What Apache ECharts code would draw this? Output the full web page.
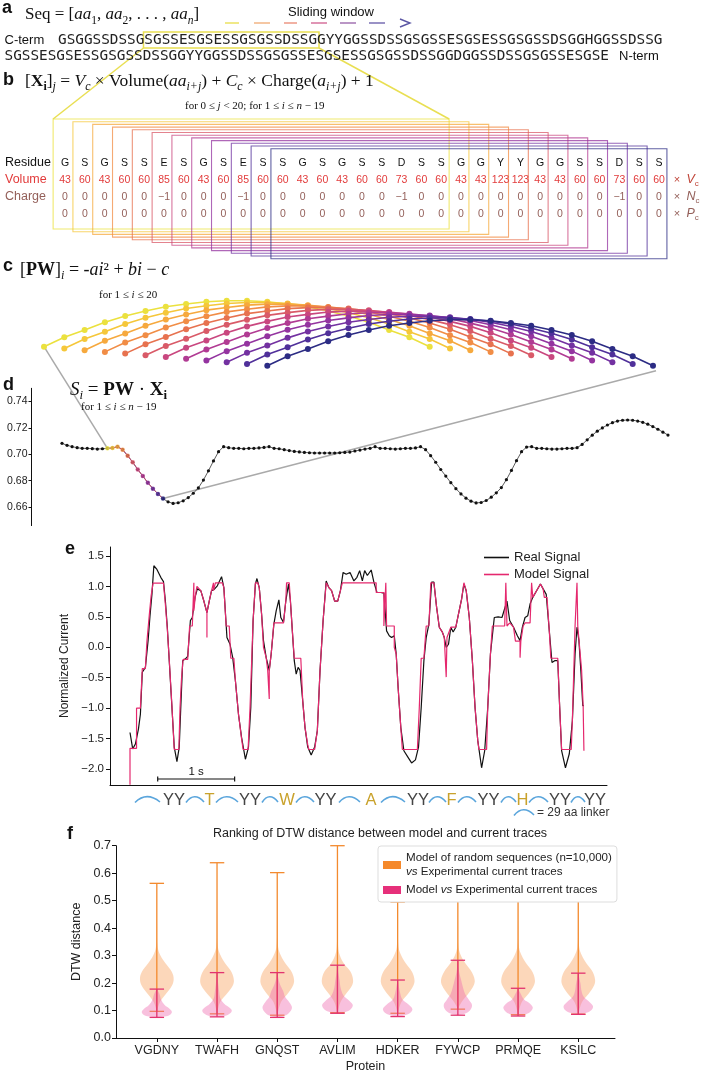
<!DOCTYPE html>
<html><head><meta charset="utf-8">
<script src="https://cdn.jsdelivr.net/npm/echarts@6/dist/echarts.min.js"></script>
<style>html,body{margin:0;padding:0;background:#fff}#c{width:702px;height:1074px}</style>
</head><body><div id="c"></div>
<script>
// ================= DATA =================
const seqLine1 = 'GSGGSSDSSGSGSSESGSESSGSGSSDSSGGYYGGSSDSSGSGSSESGSESSGSGSSDSGGHGGSSDSSG';
const seqLine2 = 'SGSSESGSESSGSGSSDSSGGYYGGSSDSSGSGSSESGSESSGSGSSDSSGGDGGSSDSSGSGSSESGSE';
const rowNames = ['Residue', 'Volume', 'Charge', ''];
const residues = ['G','S','G','S','S','E','S','G','S','E','S','S','G','S','G','S','S','D','S','S','G','G','Y','Y','G','G','S','S','D','S','S'];
const volumes = [43,60,43,60,60,85,60,43,60,85,60,60,43,60,43,60,60,73,60,60,43,43,123,123,43,43,60,60,73,60,60];
const charges = [0,0,0,0,0,-1,0,0,0,-1,0,0,0,0,0,0,0,-1,0,0,0,0,0,0,0,0,0,0,-1,0,0];
const posCharges = [0,0,0,0,0,0,0,0,0,0,0,0,0,0,0,0,0,0,0,0,0,0,0,0,0,0,0,0,0,0,0];
const unitNames = ['V', 'N', 'P'];
const nWindows = 12;
const pwWeights = [0.540,0.634,0.707,0.784,0.847,0.897,0.940,0.967,0.990,1.000,1.000,0.990,0.967,0.940,0.897,0.847,0.784,0.707,0.634,0.540];
const scoreValues = [
0.7083,0.7068,0.7058,0.7050,0.7045,0.7045,0.7043,0.7040,0.7042,0.7045,
0.7048,0.7058,0.7035,0.6990,0.6940,0.6885,0.6835,0.6785,0.6740,0.6700,
0.6665,0.6640,0.6628,0.6633,0.6648,0.6672,0.6705,0.6745,0.6805,0.6875,
0.6950,0.7020,0.7058,0.7050,0.7045,0.7045,0.7042,0.7045,0.7045,0.7048,
0.7052,0.7058,0.7045,0.7042,0.7035,0.7028,0.7022,0.7018,0.7014,0.7012,
0.7010,0.7010,0.7010,0.7010,0.7010,0.7012,0.7014,0.7017,0.7025,0.7032,
0.7040,0.7045,0.7058,0.7045,0.7045,0.7042,0.7040,0.7042,0.7045,0.7045,
0.7048,0.7058,0.7035,0.6990,0.6940,0.6885,0.6835,0.6785,0.6740,0.6700,
0.6668,0.6645,0.6632,0.6635,0.6650,0.6675,0.6708,0.6748,0.6808,0.6878,
0.6952,0.7020,0.7055,0.7058,0.7045,0.7045,0.7042,0.7040,0.7040,0.7042,
0.7045,0.7045,0.7050,0.7075,0.7110,0.7145,0.7175,0.7200,0.7222,0.7240,
0.7252,0.7258,0.7260,0.7258,0.7252,0.7242,0.7228,0.7210,0.7190,0.7168,
0.7146];
const firstWindowIndex = 9;
const dTicks = [0.66, 0.68, 0.70, 0.72, 0.74];
// time in 5 ms samples (200 per second), normalized current
const realSignal = [[78,-1.40],[85,-1.67],[92,-1.59],[100,-1.34],[105,-1.10],[110,-0.41],[118,-0.33],[125,0.11],[130,0.52],[135,0.87],
[140,1.34],[148,1.28],[158,1.15],[165,1.08],[170,0.76],[175,0.33],[180,-0.22],[186,-0.88],[193,-1.64],[200,-1.88],
[206,-1.64],[210,-0.99],[215,-0.22],[222,-0.19],[228,-0.15],[235,0.44],[240,0.49],[247,0.82],[253,0.96],[262,0.93],
[270,0.76],[278,0.57],[284,0.76],[290,0.93],[298,0.96],[305,1.01],[316,1.16],[322,0.98],[330,0.16],[338,0.05],
[345,-0.17],[352,-0.55],[360,-1.10],[368,-1.48],[378,-1.84],[386,-1.64],[392,-0.99],[398,0.44],[404,1.04],[408,1.13],
[414,0.98],[420,0.55],[425,0.11],[432,-0.17],[440,-0.38],[445,-0.11],[452,0.38],[458,0.60],[465,0.78],[470,0.49],
[477,0.41],[483,0.76],[490,1.04],[495,0.76],[500,0.27],[505,-0.22],[510,-0.44],[515,-0.33],[520,-0.38],[527,-0.88],
[533,-1.32],[540,-1.64],[549,-1.77],[558,-1.64],[565,-1.37],[572,-0.38],[580,0.44],[588,1.09],[595,0.98],[602,0.93],
[610,0.76],[618,0.76],[625,0.93],[632,1.23],[640,1.20],[650,1.23],[660,1.09],[668,1.15],[675,1.26],[682,1.09],
[688,1.26],[695,1.18],[700,1.20],[705,1.27],[712,1.07],[720,0.90],[730,0.90],[738,0.89],[745,0.27],[752,0.19],
[758,0.16],[765,0.19],[770,-0.11],[775,-0.66],[782,-1.32],[790,-1.70],[800,-1.80],[810,-1.90],[820,-1.85],[828,-1.64],
[835,-0.99],[842,-0.22],[848,0.16],[855,0.38],[862,1.07],[868,1.07],[875,0.66],[882,0.33],[890,0.25],[895,0.16],
[900,0.00],[906,0.05],[912,0.33],[918,0.25],[925,0.33],[932,0.55],[940,0.79],[946,1.04],[952,0.93],[960,0.49],
[968,-0.22],[975,-0.99],[982,-1.53],[992,-1.98],[1000,-1.70],[1008,-0.99],[1015,-0.11],[1025,0.49],[1035,0.50],[1045,0.49],
[1050,0.52],[1058,0.76],[1065,0.44],[1075,0.33],[1085,0.19],[1092,0.11],[1098,0.33],[1105,0.49],[1112,0.52],[1118,0.71],
[1125,0.82],[1135,0.93],[1145,1.04],[1152,0.96],[1160,0.87],[1168,0.27],[1175,-0.25],[1182,-0.22],[1190,-0.22],[1195,-0.99],
[1200,-1.70],[1210,-1.98],[1220,-1.75],[1228,-1.21],[1235,-0.11],[1240,0.33],[1245,0.11],[1250,-0.38],[1255,-0.96],[1258,-0.96]];
const modelSignal = [[78,-2.26],[78,-1.66],[95,-1.66],[95,-1.0],[105,-1.0],[110,-0.35],[118,-0.35],[122,0.1],[128,0.52],[133,0.85],
[138,1.055],[165,1.055],[170,0.7],[175,0.3],[180,-0.2],[186,-0.85],[193,-1.68],[205,-1.68],[208,-1.0],[212,-0.5],
[216,-0.2],[228,-0.2],[233,0.35],[240,0.35],[244,1.06],[244,0.6],[248,0.85],[252,1.0],[262,0.93],[270,0.76],
[278,0.57],[278,0.16],[278,0.57],[284,0.76],[290,0.93],[295,1.06],[295,0.93],[300,1.06],[318,1.06],[322,0.98],
[328,0.35],[336,0.35],[340,-0.18],[348,-0.18],[352,-0.55],[360,-1.1],[368,-1.5],[372,-1.68],[385,-1.68],[390,-1.0],
[398,0.44],[404,1.06],[410,1.06],[414,0.98],[420,0.55],[425,0.0],[432,-0.17],[436,-0.38],[440,-0.38],[440,-0.85],
[440,-0.38],[445,-0.11],[452,0.4],[477,0.4],[483,0.76],[485,1.06],[492,1.06],[495,0.76],[500,0.27],[505,-0.18],
[522,-0.18],[527,-0.88],[533,-1.32],[540,-1.6],[543,-1.68],[558,-1.68],[565,-1.37],[572,-0.38],[580,0.44],[588,1.06],
[595,0.98],[602,0.93],[610,0.76],[618,0.76],[625,0.93],[630,1.06],[718,1.06],[718,0.9],[738,0.9],[738,0.35],
[743,0.35],[743,1.06],[745,0.35],[765,0.35],[765,0.0],[770,-0.11],[775,-0.66],[782,-1.32],[786,-1.68],[825,-1.68],
[830,-1.0],[835,-0.18],[842,-0.18],[848,0.35],[855,0.35],[860,1.06],[868,1.06],[875,0.66],[882,0.33],[890,0.25],
[895,0.16],[900,0.16],[900,-0.49],[902,0.16],[906,0.16],[912,0.33],[925,0.33],[932,0.55],[940,0.79],[946,1.06],
[952,0.93],[960,0.49],[968,-0.22],[975,-0.99],[982,-1.53],[985,-1.68],[1005,-1.68],[1008,-0.99],[1015,-0.11],[1020,0.35],
[1052,0.35],[1055,1.06],[1058,0.35],[1065,0.4],[1075,0.33],[1080,0.1],[1092,0.1],[1092,-0.17],[1094,0.1],[1100,0.35],
[1105,0.4],[1118,0.4],[1122,1.06],[1125,0.82],[1135,0.93],[1145,1.04],[1152,0.96],[1155,0.82],[1162,0.82],[1168,0.27],
[1172,-0.18],[1190,-0.18],[1195,-0.99],[1200,-1.68],[1225,-1.68],[1228,-1.2],[1235,0.35],[1240,0.35],[1240,1.06],[1242,0.35],
[1247,0.35],[1252,-0.38],[1256,-0.96],[1258,-0.96],[1258,-1.7]];
const eTicks = [-2, -1.5, -1, -0.5, 0, 0.5, 1, 1.5];
const scaleBarSamples = [150, 350];
const seqTokens = ['~','YY','~','T','~','YY','~','W','~','YY','~','A','~','YY','~','F','~','YY','~','H','~','YY','~','YY'];
const proteins = ['VGDNY','TWAFH','GNQST','AVLIM','HDKER','FYWCP','PRMQE','KSILC'];
const fTicks = [0, 1, 2, 3, 4, 5, 6, 7];
const randMin = [0.097,0.088,0.083,0.092,0.090,0.105,0.085,0.087];
const randMax = [0.563,0.638,0.602,0.700,0.495,0.512,0.501,0.521];
const modelMin = [0.075,0.077,0.075,0.090,0.078,0.083,0.080,0.086];
const modelMax = [0.178,0.238,0.238,0.265,0.211,0.283,0.181,0.236];
const randShape = [
 [[0.097,0],[0.13,0.05],[0.16,0.15],[0.19,0.25],[0.215,0.28],[0.24,0.25],[0.27,0.15],[0.30,0.06],[0.33,0.015],[0.40,0.005],[0.563,0]],
 [[0.088,0],[0.13,0.05],[0.16,0.16],[0.19,0.26],[0.21,0.28],[0.24,0.24],[0.27,0.14],[0.30,0.06],[0.33,0.015],[0.40,0.005],[0.638,0]],
 [[0.083,0],[0.13,0.06],[0.16,0.17],[0.19,0.26],[0.21,0.28],[0.24,0.24],[0.27,0.14],[0.30,0.06],[0.33,0.015],[0.40,0.005],[0.602,0]],
 [[0.092,0],[0.13,0.05],[0.16,0.14],[0.19,0.24],[0.21,0.26],[0.24,0.22],[0.27,0.11],[0.30,0.04],[0.33,0.012],[0.40,0.005],[0.700,0]],
 [[0.090,0],[0.13,0.06],[0.16,0.17],[0.19,0.26],[0.21,0.28],[0.24,0.24],[0.27,0.14],[0.30,0.06],[0.33,0.015],[0.40,0.005],[0.495,0]],
 [[0.105,0],[0.13,0.06],[0.16,0.17],[0.19,0.26],[0.21,0.28],[0.24,0.23],[0.27,0.13],[0.30,0.05],[0.33,0.012],[0.40,0.005],[0.512,0]],
 [[0.085,0],[0.13,0.06],[0.16,0.17],[0.19,0.26],[0.21,0.28],[0.24,0.24],[0.27,0.14],[0.30,0.06],[0.33,0.015],[0.40,0.005],[0.501,0]],
 [[0.087,0],[0.13,0.06],[0.16,0.17],[0.19,0.26],[0.21,0.28],[0.24,0.24],[0.27,0.14],[0.30,0.06],[0.33,0.015],[0.40,0.005],[0.521,0]]];
const modelShape = [
 [[0.075,0],[0.078,0.13],[0.085,0.22],[0.095,0.25],[0.105,0.22],[0.12,0.13],[0.14,0.07],[0.16,0.045],[0.178,0]],
 [[0.077,0],[0.080,0.13],[0.090,0.22],[0.100,0.245],[0.110,0.21],[0.125,0.12],[0.145,0.055],[0.17,0.035],[0.20,0.018],[0.238,0]],
 [[0.075,0],[0.080,0.11],[0.090,0.19],[0.110,0.245],[0.130,0.20],[0.150,0.13],[0.17,0.10],[0.19,0.055],[0.21,0.025],[0.238,0]],
 [[0.090,0],[0.095,0.13],[0.105,0.22],[0.120,0.255],[0.135,0.20],[0.155,0.10],[0.18,0.055],[0.21,0.035],[0.24,0.012],[0.265,0]],
 [[0.078,0],[0.082,0.11],[0.090,0.20],[0.105,0.245],[0.120,0.19],[0.140,0.08],[0.16,0.045],[0.19,0.018],[0.211,0]],
 [[0.083,0],[0.088,0.11],[0.100,0.20],[0.120,0.235],[0.140,0.18],[0.160,0.12],[0.18,0.09],[0.21,0.055],[0.24,0.022],[0.283,0]],
 [[0.080,0],[0.085,0.11],[0.095,0.20],[0.110,0.245],[0.125,0.20],[0.140,0.10],[0.16,0.045],[0.181,0]],
 [[0.086,0],[0.090,0.11],[0.100,0.21],[0.115,0.245],[0.130,0.19],[0.150,0.09],[0.17,0.055],[0.20,0.035],[0.236,0]]];

// ================= STYLE =================
const SANS = '"Liberation Sans", Arial, Helvetica, sans-serif';
const SERIF = '"Liberation Serif", "Times New Roman", serif';
const MONO = '"DejaVu Sans Mono", monospace';
const winColors = ['#ebe13e','#f5c73a','#f6a93e','#f18d46','#e7724f','#d95a68','#c9477f','#b13b93','#9434a0','#7331a1','#50309a','#2c2c84'];
const rowColors = ['#111111', '#e23b3b', '#94605a', '#94605a'];
const windowDrop = 0.0173;
const fmtMinus = v => (v < 0 ? '\u2212' : '') + Math.abs(v);

const chart = echarts.init(document.getElementById('c'), null, {width: 702, height: 1074});

const tableCells = [];
[residues, volumes, charges, posCharges].forEach((row, r) => row.forEach((t, c) => tableCells.push([c, r, r === 0 ? t : fmtMinus(t)])));

const subRich = (size) => ({
  r: {fontFamily: SERIF, fontSize: size, lineHeight: size + 6, verticalAlign: 'middle', fill: '#111', color: '#111'},
  i: {fontFamily: SERIF, fontSize: size, fontStyle: 'italic', lineHeight: size + 6, verticalAlign: 'middle', fill: '#111', color: '#111'},
  b: {fontFamily: SERIF, fontSize: size, fontWeight: 'bold', lineHeight: size + 6, verticalAlign: 'middle', fill: '#111', color: '#111'},
  s: {fontFamily: SERIF, fontSize: size * 0.68, lineHeight: size * 0.68, verticalAlign: 'bottom', fill: '#111', color: '#111'},
  si: {fontFamily: SERIF, fontSize: size * 0.68, fontStyle: 'italic', lineHeight: size * 0.68, verticalAlign: 'bottom', fill: '#111', color: '#111'},
  sb: {fontFamily: SERIF, fontSize: size * 0.68, fontWeight: 'bold', lineHeight: size * 0.68, verticalAlign: 'bottom', fill: '#111', color: '#111'}
});
const smallRich = {
  r: {fontFamily: SERIF, fontSize: 11, fill: '#111', color: '#111'},
  i: {fontFamily: SERIF, fontSize: 11, fontStyle: 'italic', fill: '#111', color: '#111'}
};

function violinRender(shapes, mins, maxs, fill, stroke) {
  return function (params, api) {
    const i = api.value(0);
    const shape = shapes[i];
    const cx = api.coord([i, 0])[0];
    const pts = [];
    shape.forEach(([y, w]) => { const p = api.coord([i + w, y]); pts.push([p[0], p[1]]); });
    for (let k = shape.length - 1; k >= 0; k--) { const p = api.coord([i - shape[k][1], shape[k][0]]); pts.push([p[0], p[1]]); }
    const yMin = api.coord([i, mins[i]])[1], yMax = api.coord([i, maxs[i]])[1];
    const bw = api.size([0.12, 0])[0];
    return {type: 'group', children: [
      {type: 'polygon', shape: {points: pts, smooth: 0.35}, style: {fill: fill, stroke: null}},
      {type: 'line', shape: {x1: cx, y1: yMin, x2: cx, y2: yMax}, style: {stroke: stroke, lineWidth: 1.3}},
      {type: 'line', shape: {x1: cx - bw, y1: yMin, x2: cx + bw, y2: yMin}, style: {stroke: stroke, lineWidth: 1.3}},
      {type: 'line', shape: {x1: cx - bw, y1: yMax, x2: cx + bw, y2: yMax}, style: {stroke: stroke, lineWidth: 1.3}}
    ]};
  };
}

const series = [];
series.push({
  type: 'custom', xAxisIndex: 0, yAxisIndex: 0, z: 5,
  data: tableCells.map(c => [c[0], c[1]]),
  encode: {x: 0, y: 1},
  renderItem: (params, api) => {
    const cell = tableCells[params.dataIndex];
    const p = api.coord([api.value(0), api.value(1)]);
    return {type: 'text', x: p[0], y: p[1], style: {text: String(cell[2]), fill: rowColors[cell[1]], fontSize: 10.5, fontFamily: SANS, align: 'center', verticalAlign: 'middle', textAlign: 'center', textVerticalAlign: 'middle'}};
  }
});
series.push({
  type: 'custom', xAxisIndex: 0, yAxisIndex: 0, z: 5,
  data: unitNames.map((u, k) => [30.75, k + 1]),
  encode: {x: 0, y: 1},
  renderItem: (params, api) => {
    const p = api.coord([api.value(0), api.value(1)]);
    const col = params.dataIndex === 0 ? '#c0463a' : '#94605a';
    return {type: 'text', x: p[0], y: p[1], style: {
      text: '{x|\u00d7  }{v|' + unitNames[params.dataIndex] + '}{s|c}', align: 'left', verticalAlign: 'middle', textAlign: 'left', textVerticalAlign: 'middle',
      rich: {x: {fontSize: 11, fontFamily: SANS, fill: col, lineHeight: 16, verticalAlign: 'middle'},
             v: {fontSize: 12.5, fontFamily: SANS, fontStyle: 'italic', fill: col, lineHeight: 16, verticalAlign: 'middle'},
             s: {fontSize: 8, fontFamily: SANS, fill: col, lineHeight: 8, verticalAlign: 'bottom'}}}};
  }
});
for (let k = 0; k < nWindows; k++) {
  series.push({
    type: 'line', xAxisIndex: 1, yAxisIndex: 1, z: 3 + k * 0.01,
    data: pwWeights.map((w, j) => [k + j, w - k * windowDrop]),
    symbol: 'circle', symbolSize: 6, showAllSymbol: true,
    lineStyle: {color: winColors[k], width: 1.6}, itemStyle: {color: winColors[k]}
  });
}
series.push({
  type: 'line', xAxisIndex: 2, yAxisIndex: 2, z: 3,
  data: scoreValues.map((v, i) => [i, v]),
  symbol: 'circle', symbolSize: 3.2, showAllSymbol: true,
  lineStyle: {color: '#333', width: 0.8}, itemStyle: {color: '#111'}
});
series.push({
  type: 'line', xAxisIndex: 2, yAxisIndex: 2, z: 4,
  data: scoreValues.slice(firstWindowIndex, firstWindowIndex + nWindows).map((v, k) => [firstWindowIndex + k, v]),
  symbol: 'none', lineStyle: {color: '#c04a78', width: 1}
});
series.push({
  type: 'scatter', xAxisIndex: 2, yAxisIndex: 2, z: 5, symbolSize: 4.5,
  data: scoreValues.slice(firstWindowIndex, firstWindowIndex + nWindows).map((v, k) => ({value: [firstWindowIndex + k, v], itemStyle: {color: winColors[k]}}))
});
series.push({name: 'Real Signal', type: 'line', xAxisIndex: 3, yAxisIndex: 3, z: 3, data: realSignal, symbol: 'none', lineStyle: {color: '#111', width: 1.2}, itemStyle: {color: '#111'}});
series.push({name: 'Model Signal', type: 'line', xAxisIndex: 3, yAxisIndex: 3, z: 4, data: modelSignal, symbol: 'none', lineStyle: {color: '#e5286e', width: 1.2}, itemStyle: {color: '#e5286e'}});
series.push({name: 'rand', type: 'custom', xAxisIndex: 4, yAxisIndex: 4, z: 3,
  itemStyle: {color: '#f5892b'},
  data: proteins.map((p, i) => [i, randMax[i]]), encode: {x: 0, y: 1},
  renderItem: violinRender(randShape, randMin, randMax, 'rgba(248,160,90,0.42)', '#f38a2e')});
series.push({name: 'model', type: 'custom', xAxisIndex: 4, yAxisIndex: 4, z: 4,
  itemStyle: {color: '#e6307a'},
  data: proteins.map((p, i) => [i, modelMax[i]]), encode: {x: 0, y: 1},
  renderItem: violinRender(modelShape, modelMin, modelMax, 'rgba(238,105,175,0.42)', '#e2336f')});

const hidden = {show: false};
const option = {
  animation: false,
  backgroundColor: '#fff',
  textStyle: {fontFamily: SANS},
  grid: [
    {left: 45.2, top: 154.5, width: 623.7, height: 68},
    {left: 23.7, top: 295.7, width: 649.6, height: 75},
    {left: 31.5, top: 388.3, width: 646.6, height: 137.3},
    {left: 110, top: 547, width: 497, height: 238},
    {left: 116, top: 845.7, width: 499, height: 196}
  ],
  xAxis: [
    {gridIndex: 0, type: 'value', min: -1, max: 30.5, show: false},
    {gridIndex: 1, type: 'value', min: -1, max: 31, show: false},
    {gridIndex: 2, type: 'value', min: -6.04, max: 122, show: false},
    {gridIndex: 3, type: 'value', min: 26, max: 1318, splitLine: hidden, axisTick: hidden, axisLabel: hidden,
     axisLine: {show: true, onZero: false, lineStyle: {color: '#111', width: 1}}},
    {gridIndex: 4, type: 'value', min: -0.678, max: 7.61, splitLine: hidden,
     name: 'Protein', nameLocation: 'middle', nameGap: 22, nameTextStyle: {fontSize: 12.5, color: '#222'},
     axisLine: {show: true, onZero: false, lineStyle: {color: '#111'}},
     axisTick: {show: true, customValues: fTicks, length: 4, lineStyle: {color: '#111'}},
     axisLabel: {customValues: fTicks, formatter: v => proteins[Math.round(v)] || '', fontSize: 12.5, color: '#222', margin: 6}}
  ],
  yAxis: [
    {gridIndex: 0, type: 'category', data: rowNames, inverse: true, axisLine: hidden, axisTick: hidden, splitLine: hidden,
     axisLabel: {interval: 0, align: 'left', margin: 40.2, fontSize: 12.5, color: (v, i) => rowColors[i]}},
    {gridIndex: 1, type: 'value', min: 0.3, max: 1.05, show: false},
    {gridIndex: 2, type: 'value', min: 0.646, max: 0.750, splitLine: hidden,
     axisLine: {show: true, onZero: false, lineStyle: {color: '#111'}},
     axisTick: {show: true, customValues: dTicks, length: 3, lineStyle: {color: '#111'}},
     axisLabel: {customValues: dTicks, formatter: v => v.toFixed(2), fontSize: 10.5, color: '#222', margin: 4}},
    {gridIndex: 3, type: 'value', min: -2.263, max: 1.648, splitLine: hidden,
     name: 'Normalized Current', nameLocation: 'middle', nameGap: 38, nameTextStyle: {fontSize: 12, color: '#222'},
     axisLine: {show: true, onZero: false, lineStyle: {color: '#111'}},
     axisTick: {show: true, customValues: eTicks, length: 4, lineStyle: {color: '#111'}},
     axisLabel: {customValues: eTicks, formatter: v => (v < 0 ? '\u2212' : '') + Math.abs(v).toFixed(1), fontSize: 11.5, color: '#222', margin: 6}},
    {gridIndex: 4, type: 'value', min: 0, max: 0.7, interval: 0.1, splitLine: hidden,
     name: 'DTW distance', nameLocation: 'middle', nameGap: 33, nameTextStyle: {fontSize: 12.5, color: '#222'},
     axisLine: {show: true, onZero: false, lineStyle: {color: '#111'}},
     axisTick: {show: true, length: 4, lineStyle: {color: '#111'}},
     axisLabel: {formatter: v => v.toFixed(1), fontSize: 12.5, color: '#222', margin: 5}}
  ],
  legend: [
    {data: ['Real Signal', 'Model Signal'], left: 479, top: 546, orient: 'vertical', icon: 'rect', itemWidth: 25, itemHeight: 1.6, itemGap: 4,
     textStyle: {fontSize: 13, color: '#222'}, selectedMode: false},
    {data: ['rand', 'model'], left: 378, top: 846, orient: 'vertical', icon: 'rect', itemWidth: 18, itemHeight: 8, itemGap: 4,
     padding: [5, 5, 5, 5], borderColor: '#dddddd', borderWidth: 1, borderRadius: 3, backgroundColor: '#fff', selectedMode: false,
     formatter: n => n === 'rand' ? 'Model of random sequences (n=10,000)\n{it|vs} Experimental current traces' : 'Model {it|vs} Experimental current traces',
     textStyle: {fontSize: 11.6, color: '#222', lineHeight: 14, rich: {it: {fontSize: 11.6, fontStyle: 'italic', color: '#222', lineHeight: 14}}}}
  ],
  series: series
};
chart.setOption(option);

// ================= GRAPHICS (annotations) =================
const G = [];
function text(x, y, t, o) {
  G.push({type: 'text', x: x, y: y, z: 20, style: Object.assign({text: t, fill: '#111', fontFamily: SANS, fontSize: 13,
    align: 'left', verticalAlign: 'middle', textAlign: 'left', textVerticalAlign: 'middle'}, o || {})});
}
function line(x1, y1, x2, y2, stroke, w, z) {
  G.push({type: 'line', z: z || 15, shape: {x1: x1, y1: y1, x2: x2, y2: y2}, style: {stroke: stroke, lineWidth: w || 1}});
}
const bold18 = {fontSize: 18, fontWeight: 'bold'};
text(2, 8, 'a', bold18);
text(3, 80, 'b', bold18);
text(3, 266, 'c', bold18);
text(3, 385, 'd', bold18);
text(65, 549, 'e', bold18);
text(67, 834, 'f', bold18);

text(25, 15, '{r|Seq = [}{i|aa}{s|1}{r|, }{i|aa}{s|2}{r|, . . . , }{i|aa}{si|n}{r|]}', {rich: subRich(17)});
text(288, 12, 'Sliding window', {fontSize: 13});
const dashes = [[225, 239, '#ece46a'], [254, 270, '#f3b98c'], [284, 297, '#ee9d8c'], [311, 327, '#d97aa2'], [340, 356, '#a97cb8'], [369, 385, '#8176b8']];
dashes.forEach(d => line(d[0], 23, d[1], 23, d[2], 1.6));
G.push({type: 'polyline', z: 15, shape: {points: [[400, 19], [410, 23], [400, 27]]}, style: {stroke: '#5b56a4', lineWidth: 1.4, fill: null}});
text(4.5, 40, 'C-term', {fontSize: 13});
text(58, 40, seqLine1, {fontFamily: MONO, fontSize: 14.35, fill: '#222'});
text(4.5, 56, seqLine2, {fontFamily: MONO, fontSize: 14.35, fill: '#222'});
text(619, 56, 'N-term', {fontSize: 13});
G.push({type: 'rect', z: 14, shape: {x: 143.5, y: 32, width: 175.5, height: 16}, style: {stroke: '#e9df52', lineWidth: 1.5, fill: null}});

text(25, 81, '{r|[}{b|X}{sb|i}{r|]}{si|j}{r| = }{i|V}{si|c}{r| \u00d7 Volume(}{i|aa}{si|i+j}{r|) + }{i|C}{si|c}{r| \u00d7 Charge(}{i|a}{si|i+j}{r|) + 1}', {rich: subRich(17.5)});
text(185, 106, '{r|for 0 \u2264 }{i|j}{r| < 20; for 1 \u2264 }{i|i}{r| \u2264 }{i|n}{r| \u2212 19}', {rich: smallRich});

const boxTop0 = 119, boxH = 110, boxStep = 2.7;
for (let k = 0; k < nWindows; k++) {
  const xl = chart.convertToPixel({xAxisIndex: 0}, k - 0.6);
  const xr = chart.convertToPixel({xAxisIndex: 0}, k + 19.4);
  G.push({type: 'rect', z: 2, shape: {x: xl, y: boxTop0 + boxStep * k, width: xr - xl, height: boxH},
    style: {stroke: winColors[k], lineWidth: 1.1, fill: null, opacity: 0.75}});
  if (k === 0) {
    line(143.5, 48, xl, boxTop0, '#e9df52', 1.5, 3);
    line(319, 48, xr, boxTop0, '#e9df52', 1.5, 3);
  }
}

text(20, 270, '{r|[}{b|PW}{r|]}{si|i}{r| = -}{i|ai}{r|\u00b2 + }{i|bi}{r| \u2212 }{i|c}', {rich: subRich(18)});
text(99, 295, '{r|for 1 \u2264 }{i|i}{r| \u2264 20}', {rich: smallRich});
text(70, 390, '{i|S}{si|i}{r| = }{b|PW}{r| \u00b7 }{b|X}{sb|i}', {rich: subRich(19)});
text(81, 407, '{r|for 1 \u2264 }{i|i}{r| \u2264 }{i|n}{r| \u2212 19}', {rich: smallRich});

const cStart = chart.convertToPixel({gridIndex: 1}, [0, pwWeights[0]]);
const cEnd = chart.convertToPixel({gridIndex: 1}, [nWindows - 1 + 19, pwWeights[19] - (nWindows - 1) * windowDrop]);
const dStart = chart.convertToPixel({gridIndex: 2}, [firstWindowIndex, scoreValues[firstWindowIndex]]);
const dEnd = chart.convertToPixel({gridIndex: 2}, [firstWindowIndex + nWindows - 1, scoreValues[firstWindowIndex + nWindows - 1]]);
line(cStart[0], cStart[1], dStart[0], dStart[1], '#aaaaaa', 1.5, 1);
line(cEnd[0] + 3, cEnd[1] + 5, dEnd[0], dEnd[1], '#aaaaaa', 1.5, 1);

const sb0 = chart.convertToPixel({gridIndex: 3}, [scaleBarSamples[0], -2.164]);
const sb1 = chart.convertToPixel({gridIndex: 3}, [scaleBarSamples[1], -2.164]);
line(sb0[0], sb0[1], sb1[0], sb1[1], '#111', 1.2);
line(sb0[0], sb0[1] - 2.5, sb0[0], sb0[1] + 2.5, '#111', 1.2);
line(sb1[0], sb1[1] - 2.5, sb1[0], sb1[1] + 2.5, '#111', 1.2);
text((sb0[0] + sb1[0]) / 2, sb0[1] - 7, '1 s', {fontSize: 11.5, align: 'center', textAlign: 'center'});

const tokenX = [[135,160],[163,185],[186,204],[205,214],[216,238],[239,261],[262,278],[279,295],[296,314],[315,336],[339,360],[366,376],[381,405],[408,428],[429,446],[447,456],[458,476],[477,500],[501,516],[517,528],[529,548],[550,570],[571,585],[586,604]];
function wave(x0, x1, y) {
  const w = x1 - x0;
  G.push({type: 'bezierCurve', z: 15, shape: {x1: x0, y1: y + 2.5, cpx1: x0 + w * 0.3, cpy1: y - 5, cpx2: x0 + w * 0.65, cpy2: y - 5, x2: x1, y2: y + 2},
    style: {stroke: '#5aa5dc', lineWidth: 1.6, fill: null}});
}
seqTokens.forEach((t, i) => {
  const x0 = tokenX[i][0], x1 = tokenX[i][1];
  if (t === '~') wave(x0, x1, 800);
  else text((x0 + x1) / 2, 800, t, {fontSize: 16.5, align: 'center', textAlign: 'center', fill: t === 'YY' ? '#444' : '#c9a22c'});
});
wave(514, 534, 813);
text(537, 813, '= 29 aa linker', {fontSize: 12, fill: '#333'});

text(380, 834, 'Ranking of DTW distance between model and current traces', {fontSize: 12.5, align: 'center', textAlign: 'center', fill: '#222'});

chart.setOption({graphic: G});
</script>
</body></html>
